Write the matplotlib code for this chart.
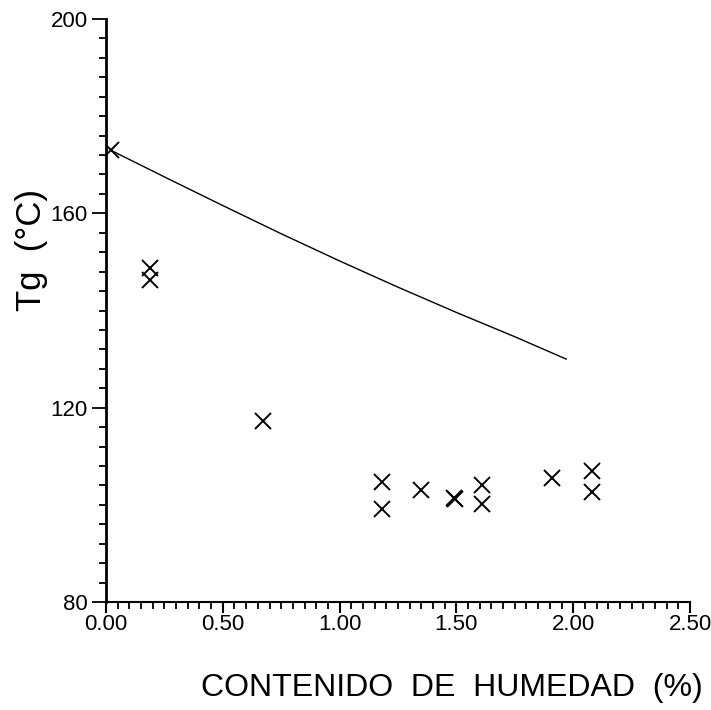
import matplotlib
matplotlib.use("Agg")
import matplotlib.pyplot as plt
from matplotlib.ticker import MultipleLocator, FixedLocator

plt.rcParams['font.family'] = ['Liberation Sans', 'DejaVu Sans']

# Measured data (X markers)
moisture = [0.02, 0.19, 0.19, 0.67, 1.18, 1.18, 1.35, 1.49, 1.495, 1.61, 1.61, 1.91, 2.08, 2.08]
tg_meas = [173.0, 148.8, 146.3, 117.3, 104.6, 99.1, 103.0, 101.4, 101.1, 104.1, 100.2, 105.5, 106.9, 102.7]

# Theoretical curve
curve_x = [0.02, 0.25, 0.50, 0.75, 1.00, 1.25, 1.50, 1.75, 1.97]
curve_y = [173.0, 167.5, 161.6, 155.8, 150.2, 144.8, 139.6, 134.6, 130.0]

x_ticks = [0.0, 0.5, 1.0, 1.5, 2.0, 2.5]
x_labels = ["0.00", "0.50", "1.00", "1.50", "2.00", "2.50"]
y_ticks = [80, 120, 160, 200]

fig = plt.figure(figsize=(7.11, 7.10), dpi=100)
ax = fig.add_axes([106/711, 108/710, 584/711, 583/710])

ax.plot(curve_x, curve_y, color='black', lw=1.0)
ax.plot(moisture, tg_meas, linestyle='none', marker='x', color='black',
        markersize=11, markeredgewidth=1.4)

ax.set_xlim(0, 2.5)
ax.set_ylim(80, 200)
ax.spines['top'].set_visible(False)
ax.spines['right'].set_visible(False)
ax.spines['left'].set_linewidth(2.0)
ax.spines['bottom'].set_linewidth(1.5)

ax.xaxis.set_major_locator(FixedLocator(x_ticks))
ax.set_xticklabels(x_labels)
ax.xaxis.set_minor_locator(MultipleLocator(0.05))
ax.yaxis.set_major_locator(FixedLocator(y_ticks))
ax.yaxis.set_minor_locator(MultipleLocator(4))

ax.tick_params(axis='x', which='major', direction='out', length=8, width=1.5,
               labelsize=16, pad=1)
ax.tick_params(axis='x', which='minor', direction='out', length=5, width=1.3)
ax.tick_params(axis='y', which='major', direction='out', length=10, width=1.3,
               labelsize=16, pad=3)
ax.tick_params(axis='y', which='minor', direction='out', length=5, width=1.3)

fig.text(452/711, 1 - 688/710, "CONTENIDO  DE  HUMEDAD  (%)", ha='center', va='center',
         fontsize=23)
fig.text(32/711, 1 - 250/710, "Tg  (°C)", ha='center', va='center', rotation=90,
         fontsize=25)

fig.savefig("out.png", dpi=100, facecolor='white')
